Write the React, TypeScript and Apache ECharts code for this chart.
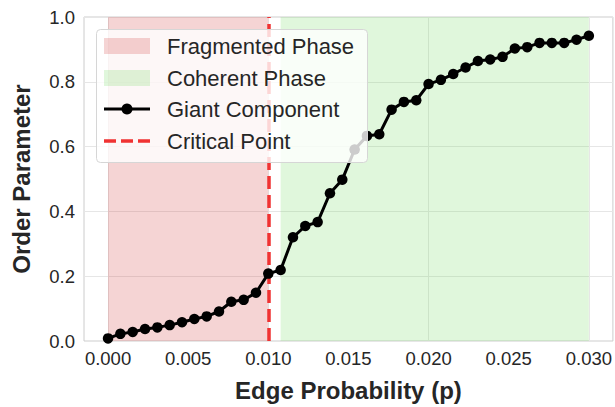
import React, { useEffect, useRef } from "react";
import * as echarts from "echarts";

// ---- data ----
const edgeProbability = [
  0.0, 0.000769, 0.001538, 0.002308, 0.003077, 0.003846, 0.004615, 0.005385,
  0.006154, 0.006923, 0.007692, 0.008462, 0.009231, 0.01, 0.010769, 0.011538,
  0.012308, 0.013077, 0.013846, 0.014615, 0.015385, 0.016154, 0.016923, 0.017692,
  0.018462, 0.019231, 0.02, 0.020769, 0.021538, 0.022308, 0.023077, 0.023846,
  0.024615, 0.025385, 0.026154, 0.026923, 0.027692, 0.028462, 0.029231, 0.03,
];
const giantComponent = [
  0.008, 0.022, 0.028, 0.037, 0.042, 0.049, 0.058, 0.068, 0.076, 0.091,
  0.121, 0.127, 0.149, 0.208, 0.219, 0.32, 0.355, 0.367, 0.456, 0.498,
  0.591, 0.633, 0.638, 0.714, 0.738, 0.743, 0.793, 0.806, 0.824, 0.844,
  0.864, 0.869, 0.877, 0.903, 0.907, 0.92, 0.92, 0.92, 0.93, 0.942,
];
const xTickValues = [0, 0.005, 0.01, 0.015, 0.02, 0.025, 0.03];
const yTickInterval = 0.2;
const fragmentedRange = [0, 0.01];
const coherentRange = [0.010769, 0.03];
const criticalPoint = 0.01;
const legendLabels = ["Fragmented Phase", "Coherent Phase", "Giant Component", "Critical Point"];

// ---- styles ----
const FONT = "'Liberation Sans', Arial, Helvetica, sans-serif";
const TEXT = "#262626";
const PINK = "rgba(205, 40, 40, 0.2)";
const GREEN = "rgba(100, 215, 80, 0.2)";
const RED = "#f03232";
const GRID_LINE = "#e6e6e6";

export default function App() {
  const ref = useRef<HTMLDivElement>(null);

  useEffect(() => {
    if (!ref.current) return;
    const chart = echarts.init(ref.current, undefined, { renderer: "svg" });

    const lx = 104;
    const lw = 46;
    const textX = 167;
    const rows = [46, 78, 109, 141];
    const Z = 100;

    const option: any = {
      animation: false,
      backgroundColor: "#ffffff",
      grid: {
        left: 84,
        right: 2,
        top: 17,
        bottom: 61,
        show: true,
        borderColor: "#cccccc",
        borderWidth: 1,
        backgroundColor: "transparent",
      },
      xAxis: {
        type: "value",
        min: -0.0015,
        max: 0.0315,
        axisLine: { show: false },
        axisTick: { show: false },
        splitLine: { show: false },
        axisLabel: {
          customValues: xTickValues,
          formatter: (v: number) => v.toFixed(3),
          fontSize: 18.5,
          color: TEXT,
          fontFamily: FONT,
          margin: 8,
        },
        name: "Edge Probability (p)",
        nameLocation: "middle",
        nameGap: 37,
        nameTextStyle: { fontSize: 24, fontWeight: "bold", color: TEXT, fontFamily: FONT },
      },
      yAxis: {
        type: "value",
        min: 0,
        max: 1,
        interval: yTickInterval,
        axisLine: { show: false },
        axisTick: { show: false },
        splitLine: { show: true, lineStyle: { color: GRID_LINE, width: 1 } },
        axisLabel: {
          formatter: (v: number) => v.toFixed(1),
          fontSize: 18.5,
          color: TEXT,
          fontFamily: FONT,
          margin: 9,
        },
        name: "Order Parameter",
        nameLocation: "middle",
        nameGap: 51,
        nameTextStyle: { fontSize: 24, fontWeight: "bold", color: TEXT, fontFamily: FONT },
      },
      series: [
        {
          name: "xgrid",
          type: "line",
          data: [],
          z: 0,
          silent: true,
          markLine: {
            z: 0,
            silent: true,
            symbol: ["none", "none"],
            label: { show: false },
            lineStyle: { color: GRID_LINE, width: 1, type: "solid" },
            emphasis: { disabled: true },
            data: xTickValues.map((v) => ({ xAxis: v })),
          },
        },
        {
          name: "phases",
          type: "line",
          data: [],
          z: 1,
          silent: true,
          markArea: {
            z: 1,
            silent: true,
            emphasis: { disabled: true },
            data: [
              [
                { xAxis: fragmentedRange[0], itemStyle: { color: PINK } },
                { xAxis: fragmentedRange[1] },
              ],
              [
                { xAxis: coherentRange[0], itemStyle: { color: GREEN } },
                { xAxis: coherentRange[1] },
              ],
            ],
          },
        },
        {
          name: legendLabels[3],
          type: "line",
          data: [],
          z: 2,
          silent: true,
          markLine: {
            z: 2,
            silent: true,
            symbol: ["none", "none"],
            label: { show: false },
            emphasis: { disabled: true },
            lineStyle: { color: RED, width: 3.5, type: [13, 6] },
            data: [{ xAxis: criticalPoint }],
          },
        },
        {
          name: legendLabels[2],
          type: "line",
          z: 10,
          data: edgeProbability.map((x, i) => [x, giantComponent[i]]),
          symbol: "circle",
          symbolSize: 10.5,
          showAllSymbol: true,
          lineStyle: { color: "#000000", width: 3 },
          itemStyle: { color: "#000000" },
          emphasis: { disabled: true },
        },
      ],
      graphic: [
        {
          type: "rect",
          z: Z,
          shape: { x: 96.5, y: 29.5, width: 271, height: 133, r: 4 },
          style: { fill: "rgba(255,255,255,0.8)", stroke: "#d6d6d6", lineWidth: 1 },
        },
        {
          type: "rect",
          z: Z + 1,
          shape: { x: lx, y: 38, width: lw, height: 16 },
          style: { fill: PINK },
        },
        {
          type: "rect",
          z: Z + 1,
          shape: { x: lx, y: 70, width: lw, height: 16 },
          style: { fill: GREEN },
        },
        {
          type: "line",
          z: Z + 1,
          shape: { x1: lx, y1: rows[2], x2: lx + lw, y2: rows[2] },
          style: { stroke: "#000000", lineWidth: 3 },
        },
        {
          type: "circle",
          z: Z + 2,
          shape: { cx: lx + lw / 2, cy: rows[2], r: 5.5 },
          style: { fill: "#000000" },
        },
        {
          type: "line",
          z: Z + 1,
          shape: { x1: lx, y1: rows[3], x2: lx + lw, y2: rows[3] },
          style: { stroke: RED, lineWidth: 3.5, lineDash: [12, 5] },
        },
        ...legendLabels.map((t, i) => ({
          type: "text",
          z: Z + 1,
          x: textX,
          y: rows[i],
          style: {
            text: t,
            fill: TEXT,
            font: `22px ${FONT}`,
            verticalAlign: "middle",
            align: "left",
          },
        })),
      ],
    };

    chart.setOption(option);
    return () => chart.dispose();
  }, []);

  return (
    <div
      ref={ref}
      style={{ position: "absolute", left: 0, top: 0, width: 615, height: 407 }}
    />
  );
}
